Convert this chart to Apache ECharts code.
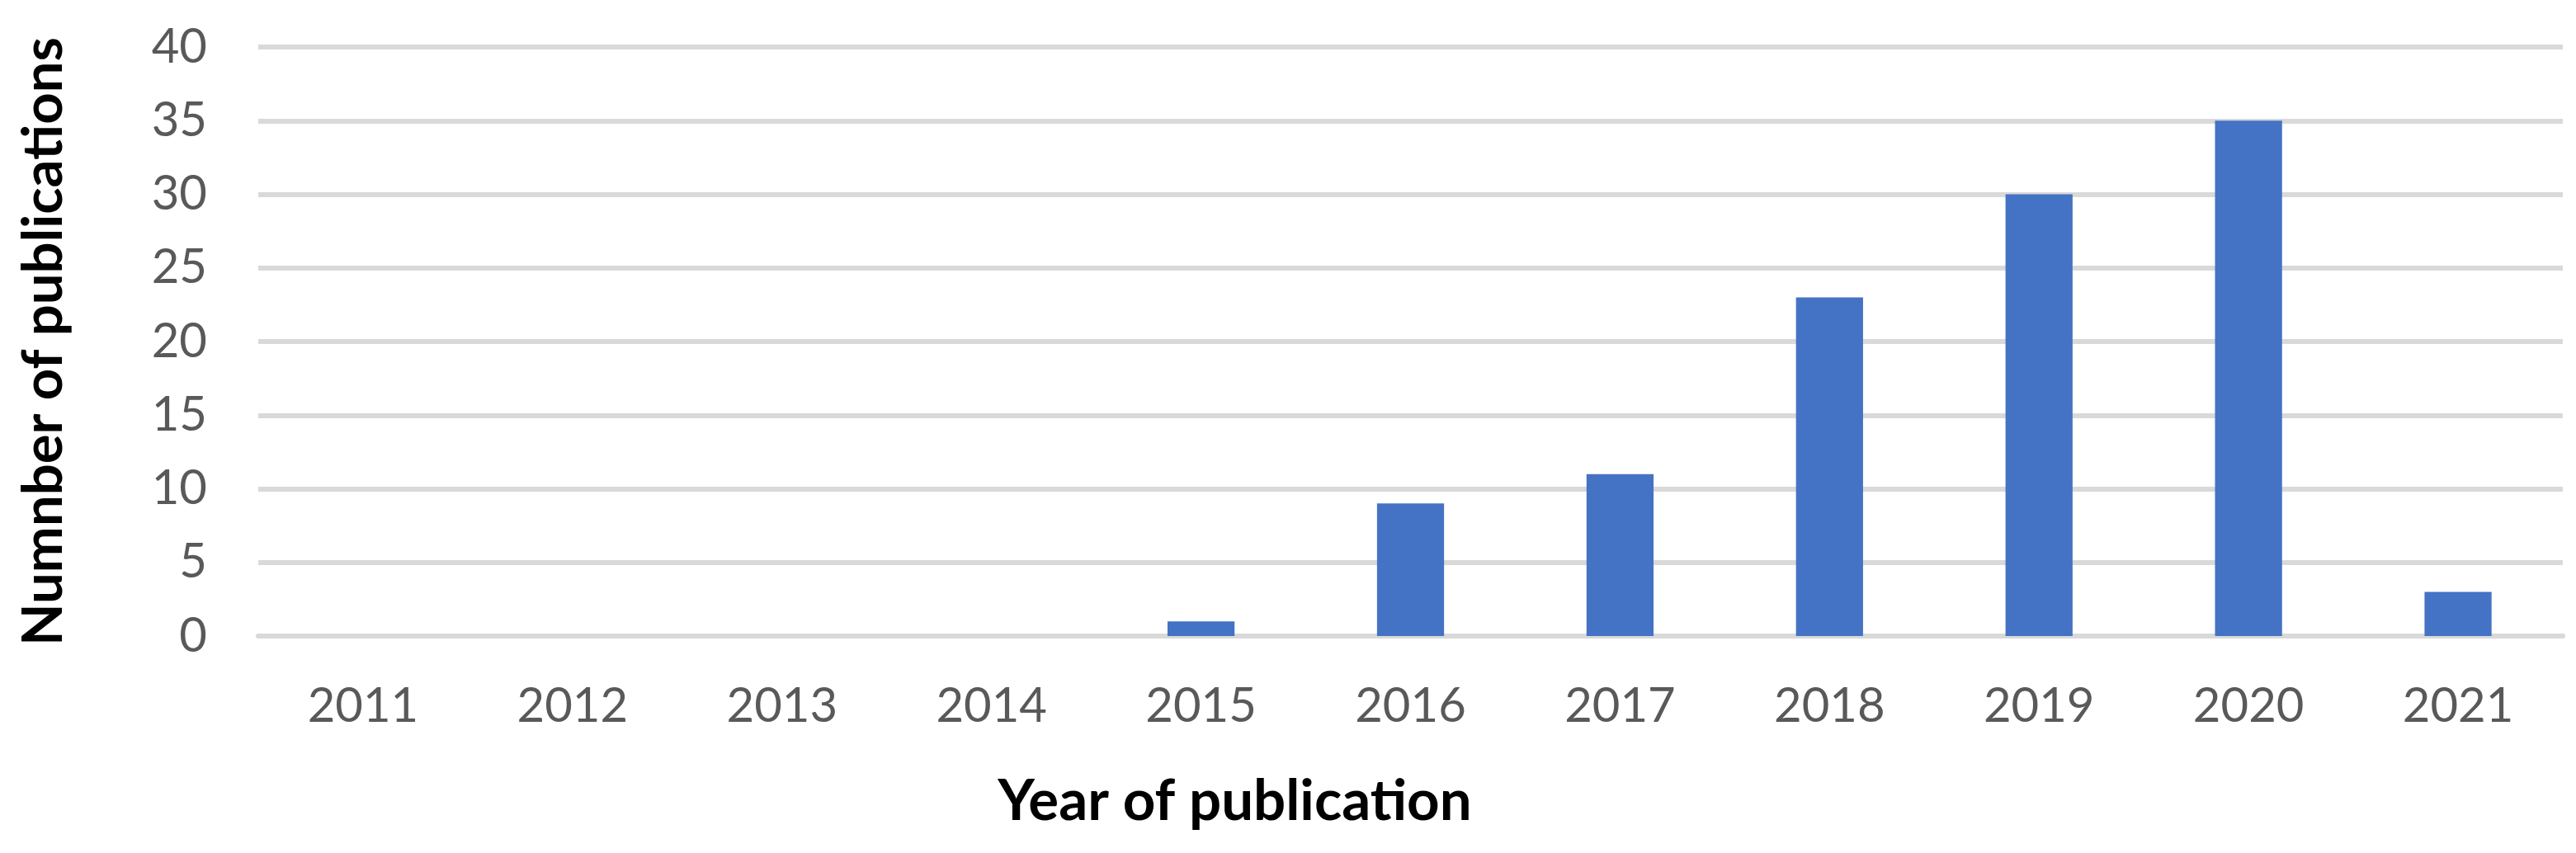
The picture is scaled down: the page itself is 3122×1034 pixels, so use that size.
<!DOCTYPE html>
<html>
<head>
<meta charset="utf-8">
<script src="https://cdn.jsdelivr.net/npm/echarts@6/dist/echarts.min.js"></script>
<style>
  html, body { margin: 0; padding: 0; background: #fff; }
  #pub-chart { width: 3122px; height: 1034px; }
</style>
</head>
<body>
<div id="pub-chart"></div>
<script>
var years = ['2011', '2012', '2013', '2014', '2015', '2016', '2017', '2018', '2019', '2020', '2021'];
var counts = [0, 0, 0, 0, 1, 9, 11, 23, 30, 35, 3];
var yTicks = { min: 0, max: 40, step: 5 };

var myChart = echarts.init(document.getElementById('pub-chart'));
var option = {
    animation: false,
    textStyle: { fontFamily: 'Lato' },
    grid: {
        left: 313,
        right: 16,
        top: 57,
        bottom: 263
    },
    xAxis: {
        type: 'category',
        data: years,
        name: 'Year of publication',
        nameLocation: 'middle',
        nameGap: 166,
        // title sits left of the plot centre in the original
        nameTextStyle: { color: '#000', fontSize: 69, fontWeight: 'bold', fontFamily: 'Lato', padding: [0, 426, 0, 0] },
        axisLine: { lineStyle: { color: '#d9d9d9', width: 6 } },
        axisTick: { show: false },
        axisLabel: { color: '#595959', fontSize: 58, margin: 56 }
    },
    yAxis: {
        type: 'value',
        min: yTicks.min,
        max: yTicks.max,
        interval: yTicks.step,
        name: 'Numnber of publications',
        nameLocation: 'middle',
        nameGap: 226,
        nameTextStyle: { color: '#000', fontSize: 67, fontWeight: 'bold', fontFamily: 'Lato' },
        axisLine: { show: false },
        axisTick: { show: false },
        axisLabel: { color: '#595959', fontSize: 58, margin: 62 },
        splitLine: { lineStyle: { color: '#d9d9d9', width: 6 } }
    },
    series: [
        {
            name: 'Publications',
            type: 'bar',
            data: counts,
            barWidth: '32%',
            itemStyle: { color: '#4472C4' }
        }
    ]
};
myChart.setOption(option);
</script>
</body>
</html>
